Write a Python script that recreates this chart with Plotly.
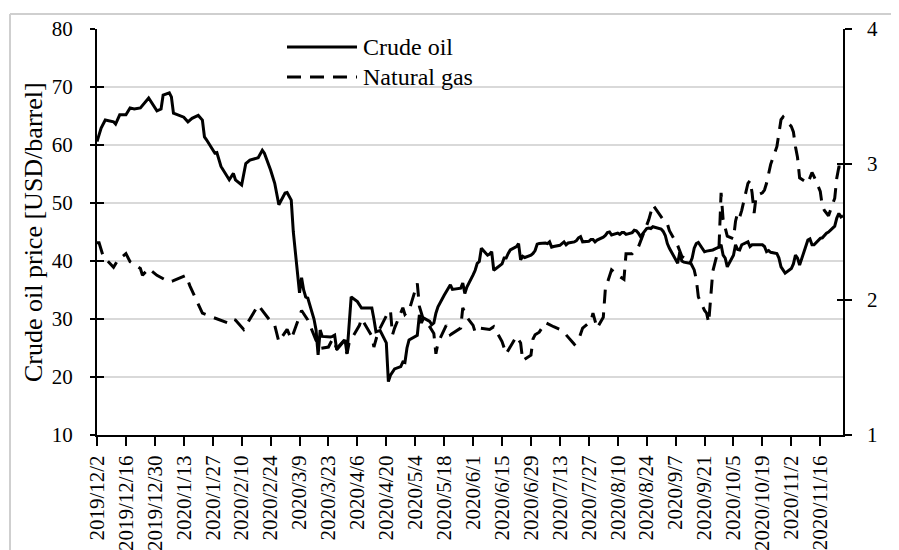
import plotly.graph_objects as go

# ---------------- data ----------------
series_names = ["Crude oil", "Natural gas"]

oil_dates = [
    "2019-12-02", "2019-12-04", "2019-12-06", "2019-12-10", "2019-12-11", "2019-12-13",
    "2019-12-16", "2019-12-18", "2019-12-20", "2019-12-23", "2019-12-27", "2019-12-31",
    "2020-01-02", "2020-01-03", "2020-01-06", "2020-01-07", "2020-01-08", "2020-01-13",
    "2020-01-15", "2020-01-17", "2020-01-20", "2020-01-22", "2020-01-23", "2020-01-24",
    "2020-01-28", "2020-01-29", "2020-01-31", "2020-02-04", "2020-02-06", "2020-02-07",
    "2020-02-10", "2020-02-12", "2020-02-14", "2020-02-18", "2020-02-20", "2020-02-21",
    "2020-02-24", "2020-02-26", "2020-02-28", "2020-03-02", "2020-03-03", "2020-03-05",
    "2020-03-06", "2020-03-09", "2020-03-10", "2020-03-11", "2020-03-12", "2020-03-13",
    "2020-03-16", "2020-03-17", "2020-03-18", "2020-03-19", "2020-03-20", "2020-03-23",
    "2020-03-24", "2020-03-25", "2020-03-26", "2020-03-27", "2020-03-30", "2020-03-31",
    "2020-04-01", "2020-04-02", "2020-04-03", "2020-04-06", "2020-04-07", "2020-04-08",
    "2020-04-09", "2020-04-13", "2020-04-14", "2020-04-15", "2020-04-16", "2020-04-17",
    "2020-04-20", "2020-04-21", "2020-04-22", "2020-04-23", "2020-04-24", "2020-04-27",
    "2020-04-28", "2020-04-29", "2020-04-30", "2020-05-01", "2020-05-04", "2020-05-05",
    "2020-05-06", "2020-05-07", "2020-05-08", "2020-05-11", "2020-05-12", "2020-05-13",
    "2020-05-14", "2020-05-15", "2020-05-18", "2020-05-19", "2020-05-20", "2020-05-21",
    "2020-05-22", "2020-05-26", "2020-05-27", "2020-05-28", "2020-05-29", "2020-06-01",
    "2020-06-02", "2020-06-03", "2020-06-04", "2020-06-05", "2020-06-08", "2020-06-09",
    "2020-06-10", "2020-06-11", "2020-06-12", "2020-06-15", "2020-06-16", "2020-06-17",
    "2020-06-18", "2020-06-19", "2020-06-22", "2020-06-23", "2020-06-24", "2020-06-25",
    "2020-06-26", "2020-06-29", "2020-06-30", "2020-07-01", "2020-07-02", "2020-07-03",
    "2020-07-06", "2020-07-07", "2020-07-08", "2020-07-09", "2020-07-10", "2020-07-13",
    "2020-07-14", "2020-07-15", "2020-07-16", "2020-07-17", "2020-07-20", "2020-07-21",
    "2020-07-22", "2020-07-23", "2020-07-24", "2020-07-27", "2020-07-28", "2020-07-29",
    "2020-07-30", "2020-07-31", "2020-08-03", "2020-08-04", "2020-08-05", "2020-08-06",
    "2020-08-07", "2020-08-10", "2020-08-11", "2020-08-12", "2020-08-13", "2020-08-14",
    "2020-08-17", "2020-08-18", "2020-08-19", "2020-08-20", "2020-08-21", "2020-08-24",
    "2020-08-25", "2020-08-26", "2020-08-27", "2020-08-28", "2020-08-31", "2020-09-01",
    "2020-09-02", "2020-09-03", "2020-09-04", "2020-09-08", "2020-09-09", "2020-09-10",
    "2020-09-11", "2020-09-14", "2020-09-15", "2020-09-16", "2020-09-17", "2020-09-18",
    "2020-09-21", "2020-09-22", "2020-09-23", "2020-09-24", "2020-09-25", "2020-09-28",
    "2020-09-29", "2020-09-30", "2020-10-01", "2020-10-02", "2020-10-05", "2020-10-06",
    "2020-10-07", "2020-10-08", "2020-10-09", "2020-10-12", "2020-10-13", "2020-10-14",
    "2020-10-15", "2020-10-16", "2020-10-19", "2020-10-20", "2020-10-21", "2020-10-22",
    "2020-10-23", "2020-10-26", "2020-10-27", "2020-10-28", "2020-10-29", "2020-10-30",
    "2020-11-02", "2020-11-03", "2020-11-04", "2020-11-05", "2020-11-06", "2020-11-09",
    "2020-11-10", "2020-11-11", "2020-11-12", "2020-11-13", "2020-11-16", "2020-11-17",
    "2020-11-18", "2020-11-19", "2020-11-20", "2020-11-23", "2020-11-24", "2020-11-25",
    "2020-11-26", "2020-11-27",
]
oil_prices = [
    60.6, 62.9, 64.3, 64.0, 63.6, 65.2,
    65.2, 66.4, 66.2, 66.4, 68.1, 65.9,
    66.2, 68.6, 69.0, 68.3, 65.5, 64.8,
    64.0, 64.6, 65.1, 64.3, 61.4, 60.9,
    58.6, 58.7, 56.3, 54.0, 55.1, 54.0,
    53.1, 56.8, 57.4, 57.8, 59.1, 58.6,
    55.7, 53.4, 49.7, 51.7, 51.8, 50.5,
    45.0, 34.5, 37.1, 35.0, 33.8, 33.6,
    30.0, 28.1, 23.8, 28.1, 27.0, 26.9,
    26.9, 27.0, 27.2, 24.7, 26.1, 26.4,
    24.1, 29.0, 33.8, 33.0, 32.5, 31.9,
    31.9, 31.9, 30.0, 27.8, 27.9, 28.0,
    25.9, 19.2, 20.3, 20.9, 21.4, 21.8,
    22.6, 22.5, 25.0, 26.4, 26.9, 27.2,
    30.7, 29.3, 30.2, 29.6, 29.0, 29.3,
    31.0, 32.1, 34.1, 34.8, 35.3, 35.9,
    35.1, 35.3, 36.2, 34.4, 35.5, 37.6,
    38.4, 39.6, 39.9, 42.2, 41.0, 41.2,
    41.6, 38.4, 38.7, 39.5, 40.5, 40.5,
    41.3, 41.9, 42.5, 43.0, 40.2, 40.8,
    40.6, 41.0, 41.3, 41.8, 42.9, 43.0,
    43.1, 43.0, 43.3, 42.4, 42.5, 42.7,
    43.0, 43.3, 42.8, 43.1, 43.3, 43.5,
    44.0, 44.2, 43.3, 43.4, 43.7, 43.7,
    43.3, 43.6, 44.1, 44.4, 44.9, 45.0,
    44.5, 44.8, 44.6, 44.9, 44.9, 44.6,
    44.9, 45.3, 45.2, 44.8, 44.2, 45.6,
    45.7, 45.6, 45.9, 45.8, 45.5, 45.1,
    44.4, 43.0, 42.2, 39.6, 41.5, 40.0,
    39.8, 39.6, 40.5, 42.2, 43.0, 43.2,
    41.6, 41.7, 41.8, 41.9, 41.9, 42.4,
    42.8, 41.0, 40.5, 39.0, 41.0, 42.8,
    42.0, 41.9, 42.8, 43.3, 42.5, 42.8,
    42.8, 42.9, 42.8, 42.5, 41.6, 41.8,
    41.5, 41.3, 40.5, 39.0, 38.5, 37.9,
    38.7, 39.5, 41.0, 40.5, 39.3, 42.5,
    43.6, 43.8, 42.8, 42.8, 43.9, 44.0,
    44.4, 44.8, 45.0, 46.0, 47.4, 48.2,
    47.6, 47.8,
]

gas_dates = [
    "2019-12-02", "2019-12-03", "2019-12-05", "2019-12-10", "2019-12-12", "2019-12-16",
    "2019-12-18", "2019-12-23", "2019-12-24", "2019-12-27", "2019-12-31", "2020-01-06",
    "2020-01-08", "2020-01-14", "2020-01-16", "2020-01-20", "2020-01-22", "2020-01-27",
    "2020-01-29", "2020-02-03", "2020-02-05", "2020-02-07", "2020-02-11", "2020-02-13",
    "2020-02-18", "2020-02-19", "2020-02-24", "2020-02-26", "2020-02-28", "2020-03-03",
    "2020-03-05", "2020-03-06", "2020-03-10", "2020-03-13", "2020-03-17", "2020-03-19",
    "2020-03-23", "2020-03-25", "2020-03-27", "2020-03-30", "2020-04-01", "2020-04-02",
    "2020-04-07", "2020-04-08", "2020-04-13", "2020-04-14", "2020-04-16", "2020-04-20",
    "2020-04-22", "2020-04-23", "2020-04-24", "2020-04-28", "2020-04-29", "2020-05-01",
    "2020-05-05", "2020-05-06", "2020-05-07", "2020-05-08", "2020-05-11", "2020-05-13",
    "2020-05-14", "2020-05-15", "2020-05-19", "2020-05-21", "2020-05-26", "2020-05-27",
    "2020-05-29", "2020-06-01", "2020-06-02", "2020-06-04", "2020-06-09", "2020-06-11",
    "2020-06-15", "2020-06-17", "2020-06-22", "2020-06-24", "2020-06-25", "2020-06-29",
    "2020-06-30", "2020-07-01", "2020-07-03", "2020-07-06", "2020-07-10", "2020-07-13",
    "2020-07-16", "2020-07-20", "2020-07-22", "2020-07-24", "2020-07-28", "2020-07-29",
    "2020-07-31", "2020-08-03", "2020-08-04", "2020-08-06", "2020-08-07", "2020-08-11",
    "2020-08-13", "2020-08-14", "2020-08-17", "2020-08-20", "2020-08-24", "2020-08-25",
    "2020-08-27", "2020-09-01", "2020-09-03", "2020-09-04", "2020-09-08", "2020-09-10",
    "2020-09-14", "2020-09-16", "2020-09-17", "2020-09-18", "2020-09-21", "2020-09-22",
    "2020-09-23", "2020-09-24", "2020-09-25", "2020-09-28", "2020-09-29", "2020-09-30",
    "2020-10-01", "2020-10-02", "2020-10-05", "2020-10-06", "2020-10-07", "2020-10-08",
    "2020-10-09", "2020-10-12", "2020-10-13", "2020-10-14", "2020-10-15", "2020-10-16",
    "2020-10-19", "2020-10-20", "2020-10-21", "2020-10-22", "2020-10-23", "2020-10-26",
    "2020-10-27", "2020-10-28", "2020-10-29", "2020-10-30", "2020-11-02", "2020-11-03",
    "2020-11-04", "2020-11-05", "2020-11-06", "2020-11-09", "2020-11-10", "2020-11-12",
    "2020-11-13", "2020-11-16", "2020-11-17", "2020-11-18", "2020-11-19", "2020-11-20",
    "2020-11-23", "2020-11-24", "2020-11-25", "2020-11-27",
]
gas_prices = [
    2.42, 2.42, 2.32, 2.24, 2.29, 2.34,
    2.28, 2.23, 2.18, 2.23, 2.18, 2.13,
    2.14, 2.18, 2.10, 1.97, 1.90, 1.87,
    1.86, 1.83, 1.86, 1.85, 1.78, 1.83,
    1.96, 1.94, 1.84, 1.81, 1.69, 1.78,
    1.71, 1.75, 1.92, 1.85, 1.70, 1.64,
    1.65, 1.71, 1.64, 1.69, 1.60, 1.68,
    1.81, 1.86, 1.73, 1.65, 1.76, 1.88,
    1.92, 1.74, 1.79, 1.94, 1.89, 1.92,
    2.12, 1.95, 1.89, 1.85, 1.80, 1.75,
    1.60, 1.68, 1.81, 1.74, 1.79, 1.94,
    1.87, 1.81, 1.76, 1.79, 1.78, 1.80,
    1.69, 1.60, 1.73, 1.68, 1.55, 1.59,
    1.71, 1.74, 1.76, 1.83, 1.80, 1.78,
    1.74, 1.67, 1.70, 1.79, 1.84, 1.90,
    1.79, 1.87, 2.08, 2.18, 2.22, 2.17,
    2.15, 2.34, 2.34, 2.39, 2.54, 2.59,
    2.70, 2.59, 2.56, 2.51, 2.40, 2.32,
    2.28, 2.22, 2.15, 2.02, 1.92, 1.90,
    1.83, 2.06, 2.21, 2.39, 2.79, 2.59,
    2.52, 2.47, 2.45, 2.58, 2.64, 2.61,
    2.66, 2.86, 2.88, 2.79, 2.64, 2.77,
    2.79, 2.81, 2.86, 2.94, 3.00, 3.13,
    3.23, 3.33, 3.35, 3.33, 3.28, 3.24,
    3.13, 3.05, 2.90, 2.87, 2.86, 2.94,
    2.91, 2.80, 2.69, 2.66, 2.64, 2.62,
    2.75, 2.90, 2.98, 2.98,
]

tick_dates = [
    "2019-12-02", "2019-12-16", "2019-12-30", "2020-01-13", "2020-01-27", "2020-02-10",
    "2020-02-24", "2020-03-09", "2020-03-23", "2020-04-06", "2020-04-20", "2020-05-04",
    "2020-05-18", "2020-06-01", "2020-06-15", "2020-06-29", "2020-07-13", "2020-07-27",
    "2020-08-10", "2020-08-24", "2020-09-07", "2020-09-21", "2020-10-05", "2020-10-19",
    "2020-11-02", "2020-11-16",
]
tick_labels = [
    "2019/12/2", "2019/12/16", "2019/12/30", "2020/1/13", "2020/1/27", "2020/2/10",
    "2020/2/24", "2020/3/9", "2020/3/23", "2020/4/6", "2020/4/20", "2020/5/4",
    "2020/5/18", "2020/6/1", "2020/6/15", "2020/6/29", "2020/7/13", "2020/7/27",
    "2020/8/10", "2020/8/24", "2020/9/7", "2020/9/21", "2020/10/5", "2020/10/19",
    "2020/11/2", "2020/11/16",
]
gas_ticks = [1, 2, 3, 4]
x_range = ["2019-12-02", "2020-11-27"]
oil_axis_range = [10, 80]
gas_axis_range = [1, 4]
axis_titles = ["Crude oil price [USD/barrel]", "Natural gas price [USD/mmbtu]"]

# ---------------- figure ----------------
FONT = "Liberation Serif"
GAS_DASH = "14px,9px"

fig = go.Figure()
fig.add_trace(go.Scatter(
    x=oil_dates, y=oil_prices, name=series_names[0], mode="lines",
    line=dict(color="black", width=3), yaxis="y", showlegend=False,
))
fig.add_trace(go.Scatter(
    x=gas_dates, y=gas_prices, name=series_names[1], mode="lines",
    line=dict(color="black", width=3, dash=GAS_DASH), yaxis="y2", showlegend=False,
))
# empty helper traces so that the helper axes (inner halves of crossing ticks) are drawn
for ax_name in ("y3", "y4"):
    fig.add_trace(go.Scatter(x=[None], y=[None], yaxis=ax_name, showlegend=False,
                             hoverinfo="skip"))

# The page body adds an 8px offset; plot area lands at page x 97..843, y 29..435.
OFF = 8
W, H = 899 - OFF, 550 - OFF
L, T = 97 - OFF, 29 - OFF
pw, ph = 746, 406
R = W - L - pw
B = H - T - ph


def px_x(px):  # page pixel -> paper x
    return (px - OFF - L) / pw


def px_y(py):  # page pixel -> paper y
    return (T + ph - (py - OFF)) / ph


tick_style = dict(tickwidth=1.5, tickcolor="black")

fig.update_layout(
    width=W, height=H,
    margin=dict(l=L, r=R, t=T, b=B, autoexpand=False),
    paper_bgcolor="white", plot_bgcolor="white",
    font=dict(family=FONT, color="black", size=20),
    showlegend=False,
    xaxis=dict(
        type="date", range=x_range,
        tickmode="array", tickvals=tick_dates, ticktext=tick_labels,
        tickangle=-90, tickfont=dict(size=21, family=FONT),
        ticks="outside", ticklen=9, **tick_style,
        showline=True, linecolor="black", linewidth=2,
        showgrid=False, zeroline=False, ticklabelstandoff=1,
    ),
    yaxis=dict(
        range=oil_axis_range, tick0=10, dtick=10,
        ticks="outside", ticklen=5, **tick_style,
        showline=True, linecolor="black", linewidth=2,
        showgrid=True, gridcolor="#d9d9d9", gridwidth=1.5,
        zeroline=False, tickfont=dict(size=21, family=FONT),
        ticklabelstandoff=13,
    ),
    # right axis: line + outer half of the crossing ticks (labels added below)
    yaxis2=dict(
        range=gas_axis_range, tickmode="array", tickvals=gas_ticks,
        overlaying="y", side="right",
        ticks="outside", ticklen=7, **tick_style,
        showline=True, linecolor="black", linewidth=2,
        showgrid=False, zeroline=False, showticklabels=False,
    ),
    yaxis3=dict(
        range=oil_axis_range, tick0=10, dtick=10, overlaying="y", side="left",
        ticks="inside", ticklen=7, **tick_style,
        showticklabels=False, showline=False, showgrid=False, zeroline=False,
    ),
    yaxis4=dict(
        range=gas_axis_range, tickmode="array", tickvals=gas_ticks,
        overlaying="y", side="right",
        ticks="inside", ticklen=6, **tick_style,
        showticklabels=False, showline=False, showgrid=False, zeroline=False,
    ),
)

shapes = [
    # chart-area border (light grey, runs off the page on the right/bottom)
    dict(type="line", xref="paper", yref="paper",
         x0=px_x(10), x1=px_x(10), y0=px_y(560), y1=px_y(14),
         line=dict(color="#cfcfcf", width=2)),
    dict(type="line", xref="paper", yref="paper",
         x0=px_x(10), x1=px_x(905), y0=px_y(14), y1=px_y(14),
         line=dict(color="#cfcfcf", width=2)),
    # legend samples
    dict(type="line", xref="paper", yref="paper",
         x0=px_x(287), x1=px_x(357), y0=px_y(47), y1=px_y(47),
         line=dict(color="black", width=3)),
    dict(type="line", xref="paper", yref="paper",
         x0=px_x(287), x1=px_x(357), y0=px_y(77), y1=px_y(77),
         line=dict(color="black", width=3, dash=GAS_DASH)),
]

annotations = [
    dict(text=series_names[0], xref="paper", yref="paper", x=px_x(361), y=px_y(47),
         xanchor="left", yanchor="middle", showarrow=False, font=dict(size=24, family=FONT)),
    dict(text=series_names[1], xref="paper", yref="paper", x=px_x(361), y=px_y(77),
         xanchor="left", yanchor="middle", showarrow=False, font=dict(size=24, family=FONT)),
    dict(text=axis_titles[0], xref="paper", yref="paper", x=px_x(33), y=px_y(232),
         xanchor="center", yanchor="middle", textangle=-90, showarrow=False,
         font=dict(size=26, family=FONT)),
    dict(text=axis_titles[1], xref="paper", yref="paper", x=px_x(901), y=px_y(225),
         xanchor="center", yanchor="middle", textangle=-90, showarrow=False,
         font=dict(size=26, family=FONT)),
]
# right-axis tick labels, positioned on the gas axis scale
for v in gas_ticks:
    annotations.append(dict(
        text=str(v), xref="paper", yref="y2", x=px_x(865), y=v,
        xanchor="left", yanchor="middle", showarrow=False,
        font=dict(size=21, family=FONT),
    ))

fig.update_layout(shapes=shapes, annotations=annotations)

fig.write_html("out.html")
